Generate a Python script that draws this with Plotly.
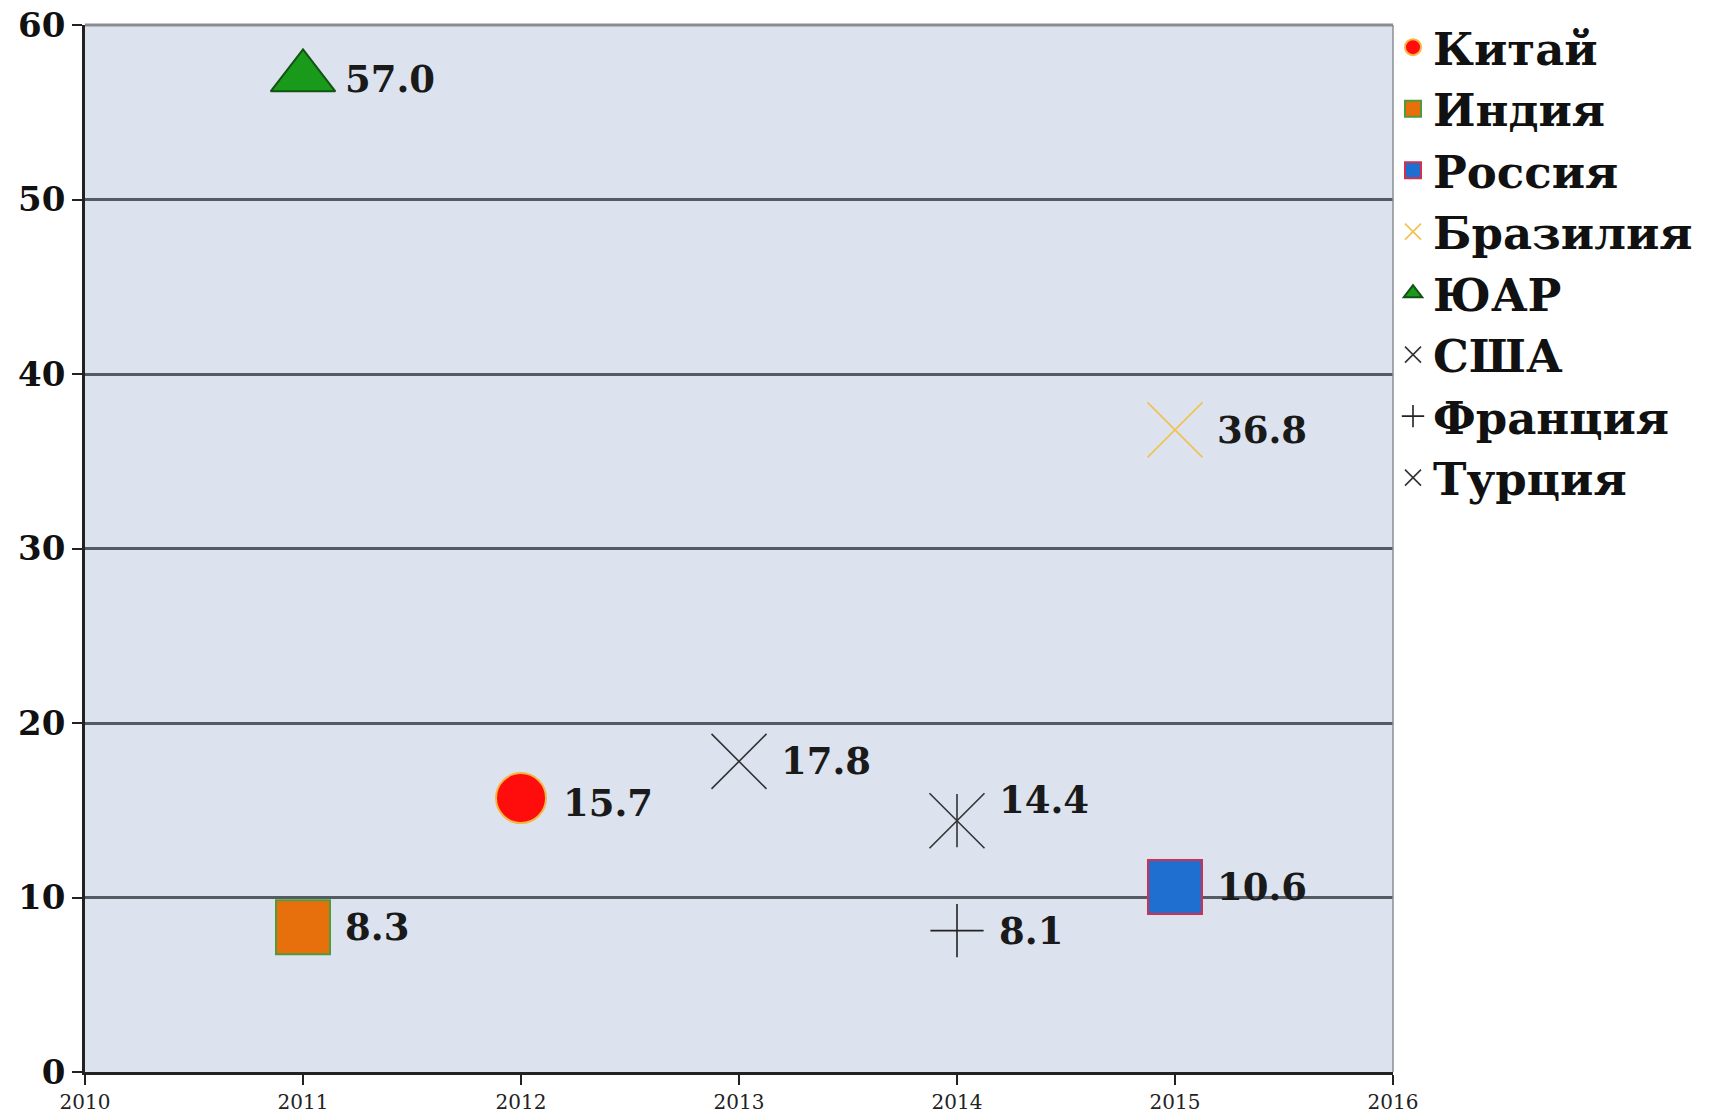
import plotly.graph_objects as go

countries = ["Китай", "Индия", "Россия", "Бразилия", "ЮАР", "США", "Франция", "Турция"]
years = [2012, 2011, 2015, 2015, 2011, 2013, 2014, 2014]
values = [15.7, 8.3, 10.6, 36.8, 57.0, 17.8, 8.1, 14.4]

y_ticks = [0, 10, 20, 30, 40, 50, 60]
x_ticks = [2010, 2011, 2012, 2013, 2014, 2015, 2016]

# styles
symbols = ["circle", "square", "square", "x-thin", "triangle-up", "x-thin", "cross-thin", "x-thin"]
fills = ["#ff0d0d", "#e8700c", "#1f6fd0", "#f2c14e", "#1a9a1a", "#333333", "#222222", "#333333"]
outlines = ["#f5b642", "#4f9a3a", "#d4304c", "#f2c14e", "#145214", "#333333", "#222222", "#333333"]
sizes = [50, 54, 54, 55, 56, 55, 38, 55]
label_dy = [-5, 0, 0, 0, -2, 0, 0, 21]
label_dx = 40

fig = go.Figure()
for i, name in enumerate(countries):
    open_sym = symbols[i] in ("x-thin", "cross-thin")
    fig.add_trace(go.Scatter(
        x=[years[i]], y=[values[i]], name=name, mode="markers",
        legendgroup=name,
        marker=dict(symbol=symbols[i], size=sizes[i], color=fills[i],
                    line=dict(color=outlines[i], width=2 if not open_sym else 1.6)),
    ))
    if name == "Турция":
        fig.add_trace(go.Scatter(
            x=[years[i]], y=[values[i]], mode="markers", legendgroup=name, showlegend=False,
            marker=dict(symbol="line-ns", size=38, color=fills[i],
                        line=dict(color=outlines[i], width=1.6)),
            hoverinfo="skip",
        ))
    fig.add_annotation(
        x=years[i], y=values[i], text=f"{values[i]:.1f}", showarrow=False,
        xanchor="left", yanchor="middle", xshift=label_dx, yshift=label_dy[i],
        font=dict(family="DejaVu Serif", size=37, color="#1a1a1a", weight="bold"),
    )

fig.update_layout(
    width=1718, height=1115,
    margin=dict(l=85, r=325, t=25, b=43, autoexpand=False),
    paper_bgcolor="white",
    plot_bgcolor="#dce3ef",
    showlegend=True,
    legend=dict(x=1.0, y=1.013, xanchor="left", yanchor="top",
                font=dict(family="DejaVu Serif", size=45, color="#111111", weight="bold"),
                bgcolor="rgba(0,0,0,0)", tracegroupgap=0, itemwidth=30),
    xaxis=dict(range=[2010, 2016], tickvals=x_ticks, ticktext=[str(t) for t in x_ticks],
               showgrid=False, zeroline=False, showline=True, linecolor="#222222", linewidth=2.5,
               ticks="outside", ticklen=10, tickwidth=2, tickcolor="#222222",
               tickfont=dict(family="DejaVu Serif", size=20, color="#222222")),
    yaxis=dict(range=[0, 60], tickvals=y_ticks, showgrid=True, gridcolor="#555b63", gridwidth=2.5,
               zeroline=False, showline=True, linecolor="#222222", linewidth=2.5,
               ticks="outside", ticklen=10, tickwidth=2, tickcolor="#222222",
               tickfont=dict(family="DejaVu Serif", size=34, color="#111111", weight="bold")),
)
fig.add_shape(type="line", xref="paper", yref="paper", x0=1, x1=1, y0=0, y1=1,
              line=dict(color="#8a8f96", width=1.5))
fig.add_shape(type="line", xref="paper", yref="paper", x0=0, x1=1, y0=1, y1=1,
              line=dict(color="#8a8c90", width=3))

fig.write_html("out.html", config={"displayModeBar": False},
               post_script="document.body.style.margin='0';")
